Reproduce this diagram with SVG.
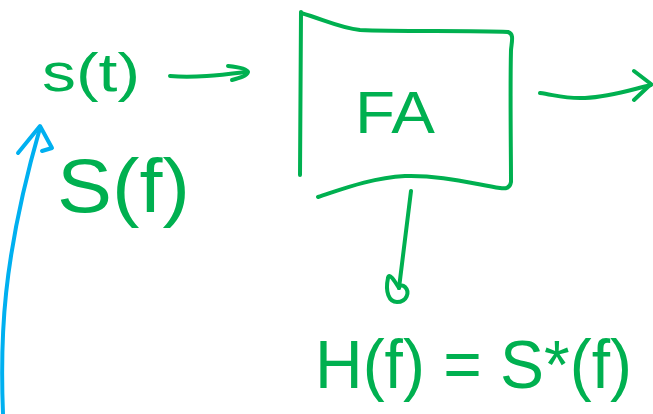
<svg xmlns="http://www.w3.org/2000/svg" width="653" height="414" viewBox="0 0 653 414">
<style>
.g{fill:none;stroke:#00b050;stroke-width:4;stroke-linecap:round;stroke-linejoin:round}
.b{fill:none;stroke:#00b0f0;stroke-width:4;stroke-linecap:round;stroke-linejoin:round}
.t{fill:#00b050;font-family:"Liberation Sans",Arial,sans-serif}
</style>
<rect width="653" height="414" fill="#ffffff"/>
<g id="s_t">
<text class="t" x="42" y="91" font-size="54" textLength="98" lengthAdjust="spacingAndGlyphs">s(t)</text>
</g>
<g id="S_f">
<text class="t" x="57" y="212" font-size="76" textLength="133" lengthAdjust="spacingAndGlyphs">S(f)</text>
</g>
<g id="FA">
<path class="g" d="M301,12 L300,175"/>
<path class="g" d="M301,13 C325,20 340,28 360,30 C400,32 470,30 508,32 C514,34 512,40 511,50 C510,90 511,150 511,182 C510,188 506,189 500,188 C470,183 440,175 405,176 C370,178 340,190 318,197"/>
<text class="t" x="395" y="133" font-size="60" text-anchor="middle" textLength="80" lengthAdjust="spacingAndGlyphs">FA</text>
</g>
<g id="H_f">
<text class="t" x="315" y="388" font-size="68" textLength="317" lengthAdjust="spacingAndGlyphs">H(f) = S*(f)</text>
</g>
<g id="connectors">
<path class="g" d="M170,76 C195,78 220,75 246,72"/>
<path class="g" d="M228,66 C238,67 247,69 248,72 C247,76 240,78 232,80"/>
<path class="g" d="M540,93 C555,95 565,99 585,98 C610,97 630,90 651,85"/>
<path class="g" d="M634,71 L651,84 L634,100"/>
<path class="g" d="M411,191 L399,288"/>
<path class="g" d="M399,288 C394,280 389,272 388,278 C385,292 389,302 397,302 C407,302 410,292 405,287 C402,284 399,286 399,288"/>
<path class="b" d="M3,414 C0,340 2,260 40,128"/>
<path class="b" d="M18,153 L40,126 L52,148 L42,151"/>
</g>
</svg>
